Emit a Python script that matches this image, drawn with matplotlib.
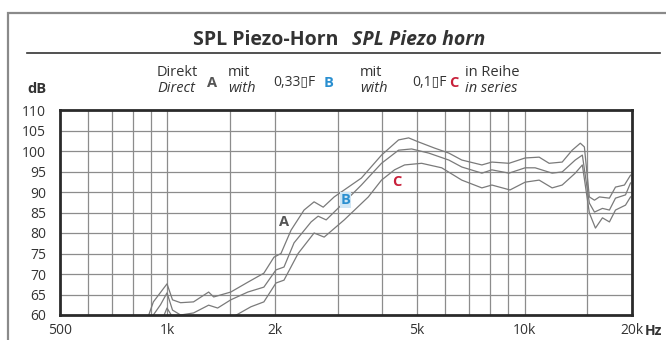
import matplotlib.pyplot as plt
from matplotlib.patches import Rectangle
from matplotlib.lines import Line2D

plt.rcParams['font.family'] = ['Open Sans', 'DejaVu Sans']

# frequency response, Hz / dB
freq_a = [878, 913, 956, 997, 1033, 1088, 1183, 1304, 1347, 1504, 1679, 1862, 1987,
          2079, 2219, 2413, 2574, 2730, 2930, 3067, 3492, 3976, 4438, 4736, 5051,
          5602, 6135, 6672, 7596, 8100, 9047, 10040, 10990, 11720, 12750, 13600,
          14330, 14710, 15190, 15700, 16210, 17290, 17980, 19050, 19810]
spl_a = [59, 63.2, 65.5, 67.6, 63.7, 63.0, 63.2, 65.6, 64.4, 65.6, 68.0, 70.2, 74.1,
         75.0, 80.7, 85.6, 87.6, 86.3, 88.8, 90.0, 93.4, 99.0, 102.7, 103.2, 102.2,
         100.7, 99.5, 97.8, 96.6, 97.3, 97.0, 98.3, 98.5, 97.0, 97.3, 100.2,
         101.9, 101.0, 88.8, 88.0, 88.8, 88.5, 91.2, 91.7, 94.1]

freq_b = [896, 956, 997, 1033, 1088, 1183, 1304, 1382, 1504, 1679, 1862, 2013, 2120,
          2262, 2525, 2642, 2783, 3067, 3492, 3976, 4438, 4828, 5388, 6135, 6672,
          7596, 8100, 9047, 10040, 10710, 11950, 12750, 13870, 14520, 15190, 15700,
          16530, 17290, 17980, 19180, 19810]
spl_b = [59, 62.5, 65.4, 61.2, 60.0, 60.5, 62.4, 61.7, 63.7, 65.6, 66.8, 71.0, 71.7,
         77.6, 82.7, 84.1, 83.2, 86.8, 91.7, 97.0, 100.2, 100.5, 99.5, 97.8, 96.1,
         94.6, 95.4, 94.6, 95.9, 95.9, 94.6, 94.9, 97.8, 99.0, 87.3, 85.1,
         86.0, 85.6, 88.5, 89.3, 92.2]

freq_c = [968, 997, 1033, 1183, 1347, 1523, 1712, 1862, 2013, 2120, 2322, 2574, 2747,
          3127, 3652, 3976, 4323, 4614, 5150, 5862, 6672, 7596, 8100, 9106, 10040,
          10990, 11950, 12750, 13870, 14520, 15190, 15800, 16530, 17290, 17980,
          19180, 19810]
spl_c = [59, 61.7, 59.5, 58.0, 58.0, 59.5, 62.0, 63.2, 67.8, 68.5, 75.0, 80.0, 79.0,
         83.2, 88.8, 92.9, 95.4, 96.6, 97.0, 95.9, 92.9, 91.0, 91.7, 90.5, 92.4,
         92.9, 91.0, 91.7, 94.6, 96.6, 84.9, 81.2, 83.7, 82.7, 85.6,
         86.8, 88.8]

grid_freqs = [600, 700, 800, 900, 1000, 1500, 2000, 3000, 4000, 5000, 6000, 7000,
              8000, 9000, 10000, 15000]
tick_freqs = [500, 1000, 2000, 5000, 10000, 20000]
tick_labels = ['500', '1k', '2k', '5k', '10k', '20k']
db_ticks = list(range(60, 111, 5))

# curve label positions (Hz, dB)
label_pos = {'A': (2120, 82.7), 'B': (3150, 88.0), 'C': (4400, 92.4)}
label_col = {'A': '#555555', 'B': '#2a8fd0', 'C': '#c8203a'}

text_col = '#333333'
W, H = 666, 340


def fx(px):
    return px / W


def fy(py):
    return 1 - py / H


fig = plt.figure(figsize=(6.66, 3.4), dpi=100)
fig.patch.set_facecolor('white')

# outer box and title rule
fig.add_artist(Rectangle((fx(8), -0.1), 1.0, fy(13) + 0.1, transform=fig.transFigure,
                         fill=False, edgecolor='#8a8a8a', linewidth=1.6))
fig.add_artist(Line2D([fx(27), fx(660)], [fy(53)] * 2, transform=fig.transFigure,
                      color='#333333', linewidth=1.2))

fig.text(fx(338), fy(40), 'SPL Piezo-Horn', ha='right', va='center',
         fontsize=14, fontweight='bold', color=text_col)
fig.text(fx(352), fy(40), 'SPL Piezo horn', ha='left', va='center',
         fontsize=14, fontweight='bold', style='italic', color=text_col)


# legend row: two stacked words per entry
def legend_pair(x, top, bottom):
    fig.text(fx(x), fy(73), top, ha='left', va='center', fontsize=10.5, color=text_col)
    fig.text(fx(x), fy(88), bottom, ha='left', va='center', fontsize=10.5,
             style='italic', color=text_col)


legend_pair(157, 'Direkt', 'Direct')
fig.text(fx(212), fy(83), 'A', fontsize=10.5, fontweight='bold', ha='center', va='center',
         color=label_col['A'])
legend_pair(228, 'mit', 'with')
fig.text(fx(273), fy(82), '0,33\u25afF', fontsize=10, va='center', color=text_col)
fig.text(fx(329), fy(83), 'B', fontsize=10.5, fontweight='bold', ha='center', va='center',
         color=label_col['B'])
legend_pair(360, 'mit', 'with')
fig.text(fx(412), fy(82), '0,1\u25afF', fontsize=10, va='center', color=text_col)
fig.text(fx(454), fy(83), 'C', fontsize=10.5, fontweight='bold', ha='center', va='center',
         color=label_col['C'])
legend_pair(465, 'in Reihe', 'in series')

fig.text(fx(27), fy(89), 'dB', fontsize=10.5, fontweight='bold', va='center',
         color=text_col)

ax = fig.add_axes([fx(60), fy(315), fx(572), 205 / H])
ax.set_xscale('log')
ax.set_xlim(500, 20000)
ax.set_ylim(60, 110)

for f in grid_freqs:
    ax.axvline(f, color='#8c8c8c', linewidth=0.9, zorder=1)
for d in db_ticks[1:-1]:
    ax.axhline(d, color='#8c8c8c', linewidth=0.9, zorder=1)

for fr, sp in [(freq_a, spl_a), (freq_b, spl_b), (freq_c, spl_c)]:
    ax.plot(fr, sp, color='#7a7a7a', linewidth=0.9, zorder=2, clip_on=True)

for key, (f, d) in label_pos.items():
    bbox = None
    if key == 'B':
        bbox = dict(boxstyle='square,pad=0.05', facecolor='#cfe6f5', edgecolor='none')
    ax.text(f, d, key, ha='center', va='center', fontsize=10.5, fontweight='bold',
            color=label_col[key], bbox=bbox, zorder=3)

ax.set_xticks(tick_freqs)
ax.set_xticklabels(tick_labels)
ax.set_xticks([], minor=True)
ax.set_yticks(db_ticks)
ax.tick_params(length=0, labelsize=10, labelcolor=text_col)
ax.tick_params(axis='x', pad=6)
ax.tick_params(axis='y', pad=10)
for s in ax.spines.values():
    s.set_linewidth(2)
    s.set_color('#2a2a2a')

fig.text(fx(645), fy(331), 'Hz', fontsize=10, fontweight='bold', va='center',
         color=text_col)

fig.savefig('out.png', dpi=100)
